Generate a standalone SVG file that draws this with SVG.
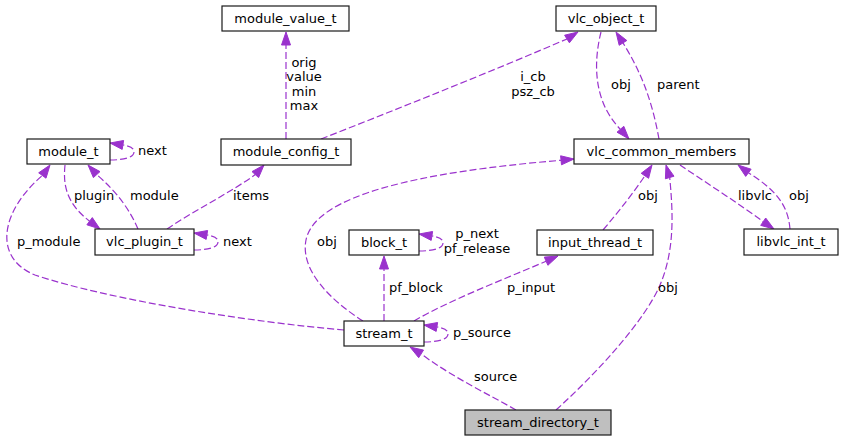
<svg xmlns="http://www.w3.org/2000/svg" width="843" height="441" viewBox="0 0 843 441">
<style>
text{font-family:"DejaVu Sans","Liberation Sans",sans-serif;font-size:13px;fill:#000}
.n text{text-anchor:middle}
.n rect{fill:#fff;stroke:#1a1a1a;stroke-width:1.2}
#stream_directory_t rect{fill:#bfbfbf}
.e path{fill:none;stroke:#9a32cd;stroke-width:1.2;stroke-dasharray:7,3}
.e polygon{fill:#9a32cd;stroke:#9a32cd;stroke-width:1}
.m{text-anchor:middle}
</style>
<rect width="843" height="441" fill="#fff"/>
<g id="connectors" class="e">
<path d="M286,139 L286,45"/><polygon points="281.5,45 286,32 290.5,45"/>
<path d="M321,139 C400,108 490,72 567,39"/><polygon points="569.4,42.8 578,32 564.6,35.2"/>
<path d="M601,32 C594,60 592,100 620.4,129.3"/><polygon points="617,132.2 629,139 623.8,126.3"/>
<path d="M659,139 C652,100 641,72 623,42.9"/><polygon points="626.8,40.5 616,32 619.2,45.3"/>
<path d="M110,160 C122,160 134,158 134,152 C134,148 130,146 122.9,145"/><polygon points="123.6,140.5 110,143 122.2,149.4"/>
<path d="M65,165 C63,185 66,203 89.6,221.2"/><polygon points="86.9,224.8 100,229 92.3,217.6"/>
<path d="M138,229 C130,210 117,192 96.7,174.6"/><polygon points="100,171.6 88,165 93.4,177.6"/>
<path d="M167,229 C195,210 228,194 255.3,174.6"/><polygon points="258.6,177.6 264,165 252,171.6"/>
<path d="M194,250 C206,250 218,248 218,242 C218,238 214,236 206.9,235"/><polygon points="207.6,230.5 194,233 206.2,239.4"/>
<path d="M344,330 C250,322 110,300 35,275 C-7,258 0,212 42.3,175.5"/><polygon points="46,178.2 50,165 38.7,172.8"/>
<path d="M363,321 C330,300 300,270 306,240 C315,195 420,172 561.1,160.3"/><polygon points="561.5,164.8 574,159 560.6,155.8"/>
<path d="M419,251 C431,251 443,249 443,243 C443,239 439,237 431.9,236"/><polygon points="432.6,231.5 419,234 431.2,240.4"/>
<path d="M384,321 L384,269"/><polygon points="379.5,269 384,256 388.5,269"/>
<path d="M414,321 C450,300 500,281 546.1,261.2"/><polygon points="547.9,265.3 558,256 544.3,257.1"/>
<path d="M424,342 C436,342 448,340 448,334 C448,330 444,328 436.9,327"/><polygon points="437.6,322.5 424,325 436.2,331.4"/>
<path d="M516,410 C490,395 452,377 421.1,353.9"/><polygon points="423.5,350.1 410,347 418.7,357.7"/>
<path d="M556,410 C600,370 645,320 660,285 C675,250 673,212 669.7,177.5"/><polygon points="674,176.2 666,165 665.4,178.8"/>
<path d="M603,230 C620,210 634,192 644.9,175.8"/><polygon points="648.6,178.3 652,165 641.2,173.3"/>
<path d="M680,165 C705,182 738,203 763.2,221.7"/><polygon points="760.7,225.4 774,229 765.7,218"/>
<path d="M790,229 C788,205 776,190 748.4,172.8"/><polygon points="751.1,169.2 738,165 745.7,176.4"/>
</g>
<g id="labels">
<text class="m" x="304" y="66.5">orig</text>
<text class="m" x="304" y="81">value</text>
<text class="m" x="304" y="95.5">min</text>
<text class="m" x="304" y="110">max</text>
<text class="m" x="533" y="81">i_cb</text>
<text class="m" x="533" y="96">psz_cb</text>
<text x="611" y="89">obj</text>
<text x="657" y="89">parent</text>
<text x="138" y="155">next</text>
<text x="74" y="200">plugin</text>
<text x="130" y="200">module</text>
<text x="233" y="200">items</text>
<text x="223" y="246">next</text>
<text x="17" y="246">p_module</text>
<text x="317" y="246">obj</text>
<text class="m" x="477" y="238">p_next</text>
<text class="m" x="477" y="253">pf_release</text>
<text x="389" y="292">pf_block</text>
<text x="507" y="292">p_input</text>
<text x="453" y="337">p_source</text>
<text x="474" y="381">source</text>
<text x="658" y="292">obj</text>
<text x="638" y="200">obj</text>
<text x="738" y="200">libvlc</text>
<text x="789" y="200">obj</text>
</g>
<g id="module_value_t" class="n"><rect x="222" y="6" width="127" height="25"/><text x="285.5" y="23">module_value_t</text></g>
<g id="vlc_object_t" class="n"><rect x="556" y="6" width="100" height="25"/><text x="606" y="23">vlc_object_t</text></g>
<g id="module_config_t" class="n"><rect x="221" y="139" width="130" height="26"/><text x="286" y="156">module_config_t</text></g>
<g id="module_t" class="n"><rect x="27" y="139" width="83" height="25"/><text x="68.5" y="156">module_t</text></g>
<g id="vlc_plugin_t" class="n"><rect x="95" y="229" width="99" height="26"/><text x="144.5" y="246">vlc_plugin_t</text></g>
<g id="vlc_common_members" class="n"><rect x="574" y="139" width="175" height="25"/><text x="661.5" y="156">vlc_common_members</text></g>
<g id="libvlc_int_t" class="n"><rect x="744" y="229" width="94" height="26"/><text x="791" y="246">libvlc_int_t</text></g>
<g id="input_thread_t" class="n"><rect x="537" y="230" width="116" height="25"/><text x="595" y="247">input_thread_t</text></g>
<g id="block_t" class="n"><rect x="349" y="230" width="70" height="25"/><text x="384" y="247">block_t</text></g>
<g id="stream_t" class="n"><rect x="344" y="321" width="80" height="25"/><text x="384" y="338">stream_t</text></g>
<g id="stream_directory_t" class="n"><rect x="465" y="410" width="146" height="25"/><text x="538" y="427">stream_directory_t</text></g>
</svg>
